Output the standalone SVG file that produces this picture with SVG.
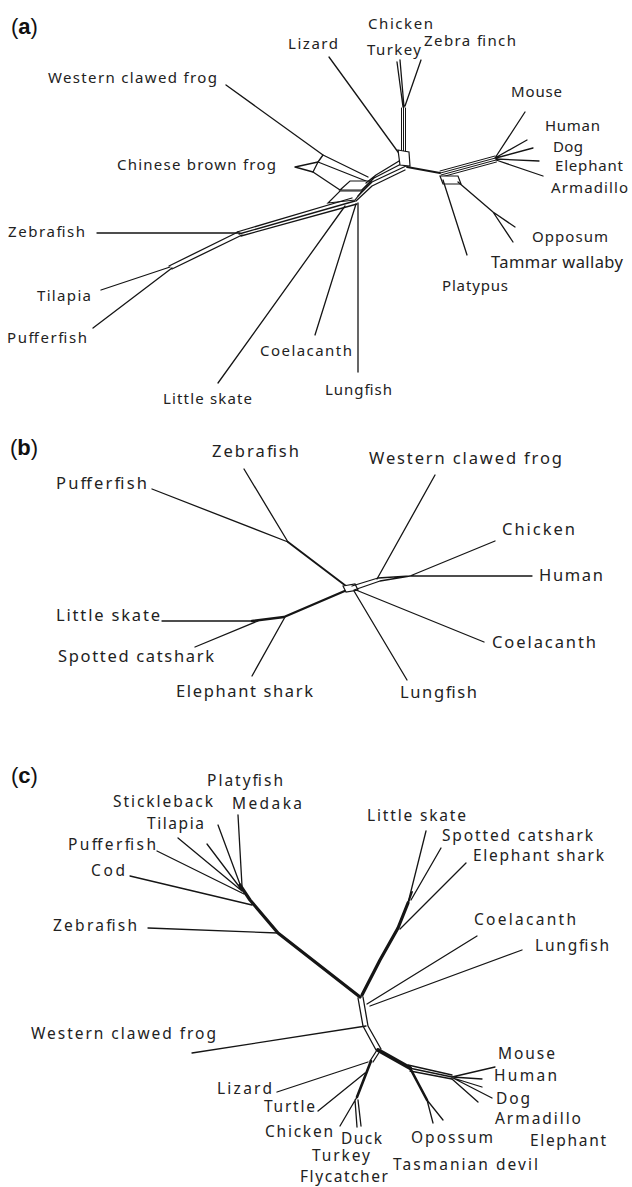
<svg xmlns="http://www.w3.org/2000/svg" width="632" height="1187" viewBox="0 0 632 1187">
<style>
.bg{fill:#fff}
.e{stroke:#151515;stroke-width:1.3;fill:none;stroke-linecap:round;stroke-linejoin:round}
.f{stroke-width:1}
.m{stroke-width:1.9}
.k{stroke-width:3.2}
.box{fill:#fff;stroke:#151515;stroke-width:1.2}
.lab{font-family:"Noto Sans","Open Sans","Liberation Sans",sans-serif;font-size:15px;fill:#222}
.lb{font-size:16.5px}
.lc{font-size:15.5px}
.pl{font-family:"Liberation Sans",Arial,sans-serif;font-size:22px;fill:#111}
</style>
<rect class="bg" x="0" y="0" width="632" height="1187"/>

<!-- Panel labels -->
<g id="panel-a-label"><text class="pl" x="11" y="34">(<tspan font-weight="bold">a</tspan>)</text></g>
<g id="panel-b-label"><text class="pl" x="10" y="455">(<tspan font-weight="bold">b</tspan>)</text></g>
<g id="panel-c-label"><text class="pl" x="11" y="783">(<tspan font-weight="bold">c</tspan>)</text></g>

<!-- ===== Connectors ===== -->
<g id="connectors-a">
  <!-- frogs -->
  <path class="e" d="M226,85 L323,155 L368,177"/>
  <path class="e" d="M295,167 L318,162 L366,181 M295,167 L313,172 L340,190"/>
  <path class="e" d="M323,155 L318,162 M318,162 L313,172"/>
  <path class="box" d="M340,190 L362,190 L371,181 L350,181 Z"/>
  <path class="box" d="M328,203 L355,200 L362,191 L340,191 Z"/>
  <!-- hub bundle to lower-left -->
  <path class="e" d="M404,158 L376,175 L366,183 M405,162 L374,178 L362,190 M406,166 L372,182 L358,196 M405,170 L372,186 L356,201"/>
  <!-- fish bundle -->
  <path class="e" d="M352,198 L237,232 M355,201 L239,234 M357,204 L241,236"/>
  <path class="e" d="M97,233 L240,233"/>
  <path class="e" d="M238,232 L169,266 M242,235 L172,269"/>
  <path class="e" d="M101,290 L170,267 M93,328 L172,268"/>
  <!-- skate, coelacanth, lungfish -->
  <path class="e" d="M218,383 L345,206"/>
  <path class="e" d="M315,335 L356,204"/>
  <path class="e" d="M358,372 L358,203"/>
  <!-- birds & lizard -->
  <path class="e f" d="M401.5,108 L401.5,151 M403.5,107 L403.5,152 M405.5,108 L405.5,153"/>
  <path class="box" d="M398,150 L409,152 L410,166 L400,165 Z"/>
  <path class="e" d="M397,62 L403,107 M400,60 L404,107 M421,60 L405,106"/>
  <path class="e" d="M329,57 L398,152"/>
  <!-- mammals -->
  <path class="e m" d="M407,167 L440,173"/>
  <path class="e f" d="M440,171 L495,156 M440.5,173 L495.5,158 M441,175 L496,160 M441.5,177 L496.5,162"/>
  <path class="e" d="M495,158 L525,112 M495,158 L527,140 M496,158 L533,148 M496,159 L539,161 M496,160 L543,176"/>
  <path class="box" d="M440,176 L458,176 L461,184 L443,184 Z"/>
  <path class="e" d="M443,180 L467,255"/>
  <path class="e" d="M458,182 L493,212 L515,227 M493,212 L513,242"/>
</g>

<g id="connectors-b">
  <path class="e" d="M244,469 L288,542 M152,489 L288,542"/>
  <path class="e m" d="M288,542 L346,586"/>
  <path class="e" d="M162,621 L255,621"/>
  <path class="e" style="stroke-width:2.4" d="M252,621 L284,617 L347,590"/>
  <path class="e" d="M195,647 L258,621 M252,676 L285,617"/>
  <path class="box" d="M343,586 L355,584 L358,590 L346,592 Z"/>
  <path class="e" d="M352,586 L378,578 M354,590 L380,581 M378,578 L410,576 L532,576 M380,581 L410,576 M410,576 L495,541"/>
  <path class="e" d="M435,475 L377,579"/>
  <path class="e" d="M356,590 L484,642 M354,591 L407,680"/>
</g>

<g id="connectors-c">
  <!-- teleost tips -->
  <path class="e" d="M238,815 L242,886 M218,825 L241,887 M207,844 L241,889 M178,838 L242,891 M157,851 L244,894 M130,876 L252,905"/>
  <path class="e" d="M148,928 L278,933"/>
  <path class="e k" d="M240,885 L250,900 L278,933 L360,997"/>
  <!-- cartilaginous fish -->
  <path class="e k" d="M362,995 L380,960 L398,928 L408,903"/>
  <path class="e m" d="M408,903 L412,892"/>
  <path class="e" d="M426,831 L408,903 M441,848 L411,900 M466,863 L400,929"/>
  <!-- lobe-finned -->
  <path class="e" d="M477,936 L367,1004 M522,950 L370,1006"/>
  <!-- central -->
  <path class="e" d="M358,998 L363,1026 L376,1050 M363,997 L368,1026 L381,1049"/>
  <path class="e" d="M192,1053 L366,1026"/>
  <!-- mammals -->
  <path class="e" style="stroke-width:4" d="M378,1050 L410,1068"/>
  <path class="e" d="M408,1065 L452,1075 M409,1068 L452,1077 M410,1071 L452,1079"/>
  <path class="e" d="M452,1077 L495,1067 M452,1077 L482,1079 M453,1078 L482,1087 M453,1078 L492,1098 M452,1079 L478,1102"/>
  <path class="e" style="stroke-width:2.6" d="M410,1068 L427,1100"/>
  <path class="e" d="M427,1100 L433,1123 M427,1100 L443,1120"/>
  <!-- reptiles & birds -->
  <path class="e" d="M377,1050 L370,1061 M380,1051 L373,1062"/>
  <path class="e" style="stroke-width:2.6" d="M371,1061 L357,1097"/>
  <path class="e" d="M277,1092 L368,1062 M318,1111 L365,1073"/>
  <path class="e" d="M357,1097 L340,1126 M355,1100 L357,1127 M358,1100 L361,1126"/>
</g>

<!-- ===== Nodes: panel a ===== -->
<g id="a-lizard"><text class="lab" x="288" y="49" textLength="50">Lizard</text></g>
<g id="a-chicken"><text class="lab" x="368" y="29" textLength="65">Chicken</text></g>
<g id="a-turkey"><text class="lab" x="367" y="55" textLength="54">Turkey</text></g>
<g id="a-zebra-finch"><text class="lab" x="424" y="46" textLength="92">Zebra finch</text></g>
<g id="a-western-clawed-frog"><text class="lab" x="48" y="83" textLength="169">Western clawed frog</text></g>
<g id="a-chinese-brown-frog"><text class="lab" x="117" y="170" textLength="159">Chinese brown frog</text></g>
<g id="a-mouse"><text class="lab" x="511" y="97" textLength="51">Mouse</text></g>
<g id="a-human"><text class="lab" x="545" y="131" textLength="55">Human</text></g>
<g id="a-dog"><text class="lab" x="553" y="152" textLength="30">Dog</text></g>
<g id="a-elephant"><text class="lab" x="555" y="171" textLength="68">Elephant</text></g>
<g id="a-armadillo"><text class="lab" x="551" y="193" textLength="77">Armadillo</text></g>
<g id="a-opposum"><text class="lab" x="532" y="242" textLength="76">Opposum</text></g>
<g id="a-tammar-wallaby"><text class="lab" x="491" y="268" textLength="132" style="font-size:16.5px">Tammar wallaby</text></g>
<g id="a-platypus"><text class="lab" x="442" y="291" textLength="66">Platypus</text></g>
<g id="a-zebrafish"><text class="lab" x="8" y="237" textLength="77">Zebrafish</text></g>
<g id="a-tilapia"><text class="lab" x="37" y="301" textLength="54">Tilapia</text></g>
<g id="a-pufferfish"><text class="lab" x="7" y="343" textLength="80">Pufferfish</text></g>
<g id="a-coelacanth"><text class="lab" x="260" y="356" textLength="92">Coelacanth</text></g>
<g id="a-lungfish"><text class="lab" x="325" y="395" textLength="67">Lungfish</text></g>
<g id="a-little-skate"><text class="lab" x="163" y="404" textLength="89">Little skate</text></g>

<!-- ===== Nodes: panel b ===== -->
<g id="b-zebrafish"><text class="lab lb" x="212" y="457" textLength="87">Zebrafish</text></g>
<g id="b-pufferfish"><text class="lab lb" x="56" y="489" textLength="91">Pufferfish</text></g>
<g id="b-little-skate"><text class="lab lb" x="56" y="621" textLength="104">Little skate</text></g>
<g id="b-spotted-catshark"><text class="lab lb" x="58" y="662" textLength="156">Spotted catshark</text></g>
<g id="b-elephant-shark"><text class="lab lb" x="176" y="697" textLength="137">Elephant shark</text></g>
<g id="b-western-clawed-frog"><text class="lab lb" x="369" y="464" textLength="193">Western clawed frog</text></g>
<g id="b-chicken"><text class="lab lb" x="502" y="535" textLength="73">Chicken</text></g>
<g id="b-human"><text class="lab lb" x="539" y="581" textLength="64">Human</text></g>
<g id="b-coelacanth"><text class="lab lb" x="492" y="648" textLength="104">Coelacanth</text></g>
<g id="b-lungfish"><text class="lab lb" x="400" y="698" textLength="77">Lungfish</text></g>

<!-- ===== Nodes: panel c ===== -->
<g id="c-platyfish"><text class="lab lc" x="207" y="786" textLength="76">Platyfish</text></g>
<g id="c-stickleback"><text class="lab lc" x="113" y="807" textLength="100">Stickleback</text></g>
<g id="c-medaka"><text class="lab lc" x="232" y="809" textLength="70">Medaka</text></g>
<g id="c-tilapia"><text class="lab lc" x="147" y="829" textLength="57">Tilapia</text></g>
<g id="c-pufferfish"><text class="lab lc" x="68" y="850" textLength="88">Pufferfish</text></g>
<g id="c-cod"><text class="lab lc" x="91" y="876" textLength="34">Cod</text></g>
<g id="c-zebrafish"><text class="lab lc" x="53" y="931" textLength="84">Zebrafish</text></g>
<g id="c-little-skate"><text class="lab lc" x="367" y="821" textLength="99">Little skate</text></g>
<g id="c-spotted-catshark"><text class="lab lc" x="442" y="841" textLength="151">Spotted catshark</text></g>
<g id="c-elephant-shark"><text class="lab lc" x="473" y="861" textLength="131">Elephant shark</text></g>
<g id="c-coelacanth"><text class="lab lc" x="474" y="925" textLength="102">Coelacanth</text></g>
<g id="c-lungfish"><text class="lab lc" x="535" y="951" textLength="74">Lungfish</text></g>
<g id="c-western-clawed-frog"><text class="lab lc" x="31" y="1039" textLength="185">Western clawed frog</text></g>
<g id="c-lizard"><text class="lab lc" x="217" y="1094" textLength="55">Lizard</text></g>
<g id="c-turtle"><text class="lab lc" x="264" y="1112" textLength="51">Turtle</text></g>
<g id="c-chicken"><text class="lab lc" x="265" y="1137" textLength="68">Chicken</text></g>
<g id="c-duck"><text class="lab lc" x="341" y="1144" textLength="41">Duck</text></g>
<g id="c-turkey"><text class="lab lc" x="312" y="1161" textLength="58">Turkey</text></g>
<g id="c-flycatcher"><text class="lab lc" x="300" y="1182" textLength="88">Flycatcher</text></g>
<g id="c-opossum"><text class="lab lc" x="411" y="1143" textLength="82">Opossum</text></g>
<g id="c-tasmanian-devil"><text class="lab lc" x="393" y="1170" textLength="145">Tasmanian devil</text></g>
<g id="c-mouse"><text class="lab lc" x="498" y="1059" textLength="57">Mouse</text></g>
<g id="c-human"><text class="lab lc" x="494" y="1081" textLength="63">Human</text></g>
<g id="c-dog"><text class="lab lc" x="496" y="1104" textLength="34">Dog</text></g>
<g id="c-armadillo"><text class="lab lc" x="495" y="1124" textLength="86">Armadillo</text></g>
<g id="c-elephant"><text class="lab lc" x="530" y="1146" textLength="76">Elephant</text></g>
</svg>
